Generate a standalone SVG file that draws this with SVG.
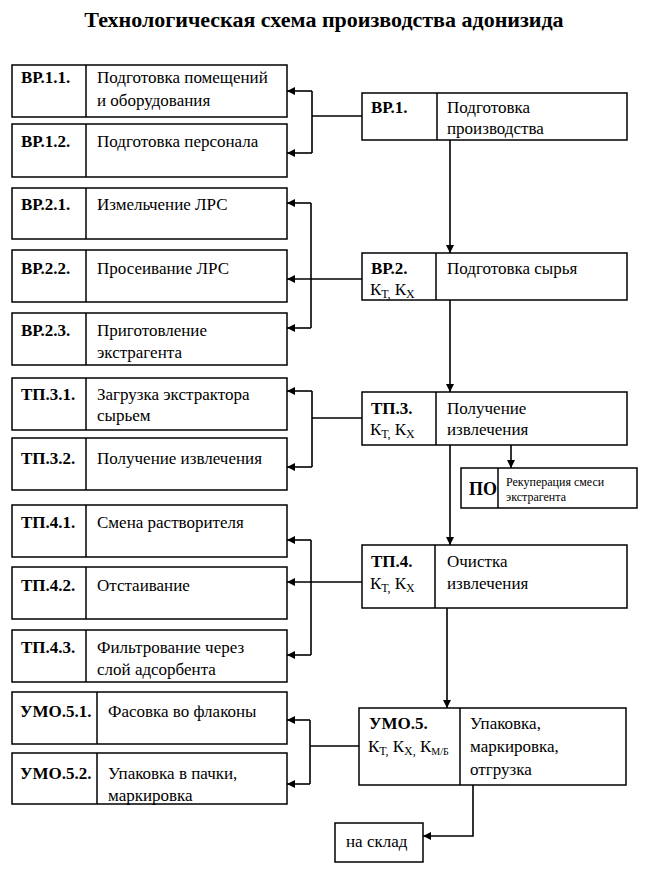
<svg xmlns="http://www.w3.org/2000/svg" width="646" height="887" viewBox="0 0 646 887">
<defs>
<marker id="ah" viewBox="0 0 10 10" refX="10" refY="5" markerWidth="8" markerHeight="8" markerUnits="userSpaceOnUse" orient="auto">
<path d="M0,0 L10,5 L0,10 z" fill="#000"/>
</marker>
<style>
.box{fill:#fff;stroke:#000;stroke-width:1.5}
.div{stroke:#000;stroke-width:1.5}
text{font-family:'Liberation Serif','DejaVu Serif',serif;font-size:17px;fill:#000}
.b{font-weight:bold}
.s{font-size:12px}
.sub{font-size:12px}
.c{fill:none;stroke:#000;stroke-width:1.6}
.a{marker-end:url(#ah)}
</style>
</defs>
<rect width="646" height="887" fill="#fff"/>
<text x="324" y="27" text-anchor="middle" class="b" style="font-size:22px">Технологическая схема производства адонизида</text>

<g id="n-vr11"><rect class="box" x="12" y="65" width="275" height="52"/><line class="div" x1="86" y1="65" x2="86" y2="117"/><text class="b" x="21" y="83">ВР.1.1.</text><text x="97" y="83">Подготовка помещений</text><text x="97" y="106">и оборудования</text></g>
<g id="n-vr12"><rect class="box" x="12" y="124" width="275" height="53"/><line class="div" x1="86" y1="124" x2="86" y2="177"/><text class="b" x="21" y="147">ВР.1.2.</text><text x="97" y="147">Подготовка персонала</text></g>
<g id="n-vr21"><rect class="box" x="12" y="188" width="275" height="51"/><line class="div" x1="86" y1="188" x2="86" y2="239"/><text class="b" x="21" y="210">ВР.2.1.</text><text x="97" y="210">Измельчение ЛРС</text></g>
<g id="n-vr22"><rect class="box" x="12" y="250" width="275" height="52"/><line class="div" x1="86" y1="250" x2="86" y2="302"/><text class="b" x="21" y="274">ВР.2.2.</text><text x="97" y="274">Просеивание ЛРС</text></g>
<g id="n-vr23"><rect class="box" x="12" y="313" width="275" height="52"/><line class="div" x1="86" y1="313" x2="86" y2="365"/><text class="b" x="21" y="336">ВР.2.3.</text><text x="97" y="336">Приготовление</text><text x="97" y="358">экстрагента</text></g>
<g id="n-tp31"><rect class="box" x="12" y="378" width="275" height="52"/><line class="div" x1="86" y1="378" x2="86" y2="430"/><text class="b" x="21" y="400">ТП.3.1.</text><text x="97" y="400">Загрузка экстрактора</text><text x="97" y="421">сырьем</text></g>
<g id="n-tp32"><rect class="box" x="12" y="438" width="275" height="52"/><line class="div" x1="86" y1="438" x2="86" y2="490"/><text class="b" x="21" y="464">ТП.3.2.</text><text x="97" y="464">Получение извлечения</text></g>
<g id="n-tp41"><rect class="box" x="12" y="505" width="275" height="52"/><line class="div" x1="86" y1="505" x2="86" y2="557"/><text class="b" x="21" y="528">ТП.4.1.</text><text x="97" y="528">Смена растворителя</text></g>
<g id="n-tp42"><rect class="box" x="12" y="567" width="275" height="52"/><line class="div" x1="86" y1="567" x2="86" y2="619"/><text class="b" x="21" y="591">ТП.4.2.</text><text x="97" y="591">Отстаивание</text></g>
<g id="n-tp43"><rect class="box" x="12" y="630" width="275" height="52"/><line class="div" x1="86" y1="630" x2="86" y2="682"/><text class="b" x="21" y="653">ТП.4.3.</text><text x="97" y="653">Фильтрование через</text><text x="97" y="675">слой адсорбента</text></g>
<g id="n-umo51"><rect class="box" x="12" y="692" width="275" height="52"/><line class="div" x1="97" y1="692" x2="97" y2="744"/><text class="b" x="20" y="717">УМО.5.1.</text><text x="108" y="717">Фасовка во флаконы</text></g>
<g id="n-umo52"><rect class="box" x="12" y="753" width="275" height="51"/><line class="div" x1="97" y1="753" x2="97" y2="804"/><text class="b" x="20" y="779">УМО.5.2.</text><text x="108" y="779">Упаковка в пачки,</text><text x="108" y="801">маркировка</text></g>

<g id="n-vr1"><rect class="box" x="362" y="93" width="265" height="47"/><line class="div" x1="437" y1="93" x2="437" y2="140"/><text class="b" x="371" y="113">ВР.1.</text><text x="447" y="113">Подготовка</text><text x="447" y="134">производства</text></g>
<g id="n-vr2"><rect class="box" x="362" y="253" width="265" height="47"/><line class="div" x1="436" y1="253" x2="436" y2="300"/><text class="b" x="371" y="274">ВР.2.</text><text x="370" y="295">К<tspan class="sub" dy="3">Т,</tspan><tspan dy="-3"> К</tspan><tspan class="sub" dy="3">Х</tspan></text><text x="447" y="274">Подготовка сырья</text></g>
<g id="n-tp3"><rect class="box" x="362" y="392" width="265" height="53"/><line class="div" x1="436" y1="392" x2="436" y2="445"/><text class="b" x="371" y="414">ТП.3.</text><text x="370" y="435">К<tspan class="sub" dy="3">Т,</tspan><tspan dy="-3"> К</tspan><tspan class="sub" dy="3">Х</tspan></text><text x="447" y="414">Получение</text><text x="447" y="435">извлечения</text></g>
<g id="n-po"><rect class="box" x="461" y="468" width="176" height="40"/><line class="div" x1="498" y1="468" x2="498" y2="508"/><text class="b" x="469" y="495" style="font-size:18px">ПО</text><text class="s" x="506" y="486">Рекуперация смеси</text><text class="s" x="506" y="501">экстрагента</text></g>
<g id="n-tp4"><rect class="box" x="362" y="545" width="265" height="63"/><line class="div" x1="435" y1="545" x2="435" y2="608"/><text class="b" x="371" y="567">ТП.4.</text><text x="370" y="589">К<tspan class="sub" dy="3">Т,</tspan><tspan dy="-3"> К</tspan><tspan class="sub" dy="3">Х</tspan></text><text x="447" y="567">Очистка</text><text x="447" y="589">извлечения</text></g>
<g id="n-umo5"><rect class="box" x="359" y="708" width="267" height="77"/><line class="div" x1="460" y1="708" x2="460" y2="785"/><text class="b" x="369" y="729">УМО.5.</text><text x="368" y="752">К<tspan class="sub" dy="3">Т,</tspan><tspan dy="-3"> К</tspan><tspan class="sub" dy="3">Х,</tspan><tspan dy="-3"> К</tspan><tspan class="sub" dy="3" style="font-size:10px">М/Б</tspan></text><text x="470" y="729">Упаковка,</text><text x="470" y="752">маркировка,</text><text x="470" y="775">отгрузка</text></g>
<g id="n-sklad"><rect class="box" x="335" y="823" width="88" height="39"/><text x="346" y="847">на склад</text></g>

<g id="connectors">
<path class="c" d="M362,116 H312 M312,91 V153"/>
<path class="c a" d="M312,91 H287"/>
<path class="c a" d="M312,153 H287"/>
<path class="c" d="M311,203 V328"/>
<path class="c a" d="M362,279 H287"/>
<path class="c a" d="M311,203 H287"/>
<path class="c a" d="M311,328 H287"/>
<path class="c" d="M362,418 H312 M312,391 V467"/>
<path class="c a" d="M312,391 H287"/>
<path class="c a" d="M312,467 H287"/>
<path class="c" d="M311,540 V655"/>
<path class="c a" d="M362,582 H287"/>
<path class="c a" d="M311,540 H287"/>
<path class="c a" d="M311,655 H287"/>
<path class="c" d="M359,746 H310 M310,720 V784"/>
<path class="c a" d="M310,720 H287"/>
<path class="c a" d="M310,784 H287"/>
<path class="c a" d="M450,140 V253"/>
<path class="c a" d="M450,300 V392"/>
<path class="c a" d="M450,445 V545"/>
<path class="c a" d="M447,608 V708"/>
<path class="c a" d="M511,445 V468"/>
<path class="c a" d="M473,785 V836 H423"/>
</g>
</svg>
